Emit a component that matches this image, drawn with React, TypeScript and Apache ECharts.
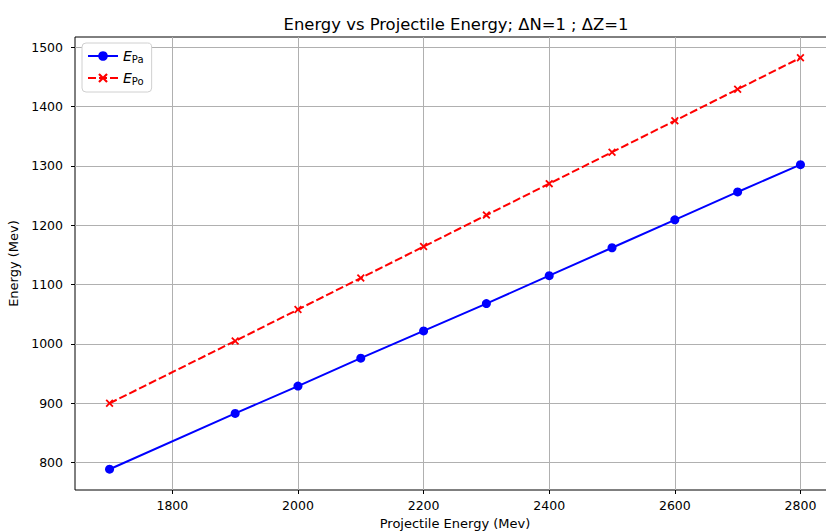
import React, { useEffect, useRef } from "react";
import * as echarts from "echarts";

const projectileEnergy = [1700, 1900, 2000, 2100, 2200, 2300, 2400, 2500, 2600, 2700, 2800];
const energyPa = [789, 883, 929, 976, 1022, 1068, 1115, 1162, 1209, 1256, 1302];
const energyPo = [900, 1005, 1058, 1111, 1164, 1217, 1270, 1323, 1376, 1429, 1482];
const xTicks = [1800, 2000, 2200, 2400, 2600, 2800];
const yTicks = [800, 900, 1000, 1100, 1200, 1300, 1400, 1500];
const seriesNames = ["E_Pa", "E_Po"];
const subscripts: Record<string, string> = { E_Pa: "Pa", E_Po: "Po" };

const FONT = "DejaVu Sans";
const X_SYMBOL = "path://M0,1.6L1.6,0L5,3.4L8.4,0L10,1.6L6.6,5L10,8.4L8.4,10L5,6.6L1.6,10L0,8.4L3.4,5Z";

export default function App() {
  const ref = useRef<HTMLDivElement>(null);
  useEffect(() => {
    if (!ref.current) return;
    const chart = echarts.init(ref.current, undefined, { renderer: "svg" });
    const axisCommon = {
      type: "value" as const,
      axisLine: { show: false },
      axisTick: { show: true, inside: false, length: 4, lineStyle: { color: "#000", width: 1 } },
      axisLabel: {
        color: "#000",
        fontFamily: FONT,
        fontSize: 12.5,
        formatter: (v: number) => String(v),
      },
      splitLine: { show: true, lineStyle: { color: "#b0b0b0", width: 1 } },
      nameTextStyle: { color: "#000", fontFamily: FONT, fontSize: 13 },
    };
    chart.setOption({
      animation: false,
      backgroundColor: "#fff",
      title: {
        text: "Energy vs Projectile Energy; ΔN=1 ; ΔZ=1",
        left: 451,
        textAlign: "center",
        top: 11,
        textStyle: { fontFamily: FONT, fontSize: 16.4, fontWeight: "normal", color: "#000" },
      },
      grid: {
        left: 75,
        top: 37,
        width: 760,
        height: 453,
        show: true,
        borderColor: "#000",
        borderWidth: 1,
        backgroundColor: "transparent",
        outerBoundsMode: "none",
        containLabel: false,
      },
      legend: {
        left: 82,
        top: 43,
        orient: "vertical",
        itemWidth: 30,
        itemHeight: 12,
        itemGap: 7,
        padding: [6, 8, 6, 5],
        borderColor: "#d0d0d0",
        borderWidth: 1,
        borderRadius: 4,
        backgroundColor: "#fff",
        data: seriesNames,
        formatter: (name: string) => `{e|E}{s|${subscripts[name]}}`,
        textStyle: {
          fontFamily: FONT,
          color: "#000",
          rich: {
            e: { fontStyle: "italic", fontSize: 14, fontFamily: FONT, color: "#000" },
            s: { fontSize: 10, fontFamily: FONT, color: "#000", padding: [6, 0, 0, 0] },
          },
        },
      },
      xAxis: {
        ...axisCommon,
        min: 1645,
        max: 2855,
        name: "Projectile Energy (Mev)",
        nameLocation: "middle",
        nameGap: 25,
        axisTick: { ...axisCommon.axisTick, customValues: xTicks },
        axisLabel: { ...axisCommon.axisLabel, customValues: xTicks, margin: 9 },
      },
      yAxis: {
        ...axisCommon,
        min: 754,
        max: 1517,
        name: "Energy (Mev)",
        nameLocation: "middle",
        nameGap: 50,
        axisTick: { ...axisCommon.axisTick, customValues: yTicks },
        axisLabel: { ...axisCommon.axisLabel, customValues: yTicks, margin: 12 },
      },
      series: [
        {
          name: seriesNames[0],
          type: "line",
          data: projectileEnergy.map((x, i) => [x, energyPa[i]]),
          symbol: "circle",
          symbolSize: 9,
          lineStyle: { color: "#0000ff", width: 2 },
          itemStyle: { color: "#0000ff" },
          z: 3,
        },
        {
          name: seriesNames[1],
          type: "line",
          data: projectileEnergy.map((x, i) => [x, energyPo[i]]),
          symbol: X_SYMBOL,
          symbolSize: 8,
          lineStyle: { color: "#ff0000", width: 2, type: [8, 3] },
          itemStyle: { color: "#ff0000" },
          z: 3,
        },
      ],
    });
    return () => chart.dispose();
  }, []);
  return (
    <div
      ref={ref}
      style={{ position: "fixed", left: 0, top: 0, width: 826, height: 531, overflow: "hidden" }}
    />
  );
}
